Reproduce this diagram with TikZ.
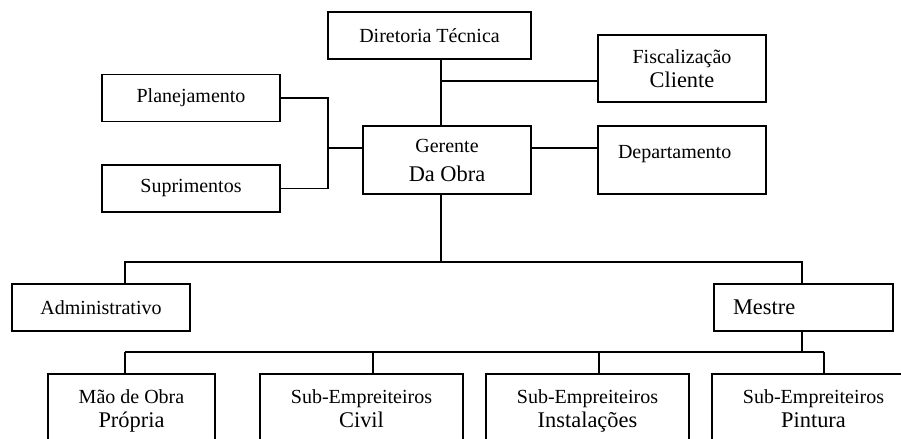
\documentclass[tikz,border=0pt]{standalone}
\usepackage{fontspec}
\setmainfont{Liberation Serif}
\usetikzlibrary{positioning}
\newcommand{\bigline}{\fontsize{11.2}{12}\selectfont}
\newcommand{\topline}{\vrule width 0pt height 9.1pt\relax}
\newcommand{\botline}{\vrule width 0pt depth 2.3pt\relax}

\begin{document}
\begin{tikzpicture}[
    x=0.5pt, y=-0.5pt,
    font=\fontsize{10}{11}\selectfont,
    box/.style={draw, line width=0.9pt, align=center, inner sep=0pt,
                minimum height=23.5pt},
    link/.style={draw, line width=0.9pt},
  ]
  \useasboundingbox (0,0) rectangle (901,439);
  \clip (0,0) rectangle (901,439);

  % --- Top level ---
  \node[box, minimum width=101.5pt] (dir) at (429.5,35.5) {Diretoria Técnica};
  \node[box, minimum width=84pt, minimum height=33.5pt] (fisc) at (682,68.5)
    {\topline Fiscalização\\[1.2pt]{\bigline\botline Cliente}};
  \node[box, minimum width=89pt] (plan) at (191,98) {Planejamento};
  \node[box, minimum width=89pt] (supr) at (191,188.5) {Suprimentos};
  \node[box, minimum width=84pt, minimum height=34pt] (ger) at (447,160)
    {\topline Gerente\\[3.6pt]{\bigline\botline Da Obra}};
  \node[box, minimum width=84pt, minimum height=34pt, text width=64pt,
        inner xsep=10pt, align=left, text height=7pt, text depth=8.4pt]
    (dep) at (682,160) {Departamento};

  % --- Middle level ---
  \node[box, text width=70.5pt, inner xsep=9.5pt, align=left, font=\bigline]
    (mes) at (803.5,307.5) {Mestre};
  \node[box, minimum width=89pt] (adm) at (101,307.5) {Administrativo};

  % --- Bottom level ---
  \node[box, minimum width=83.5pt, minimum height=34.5pt] (mao) at (131.5,408.5)
    {\topline Mão de Obra\\[1pt]{\bigline\botline Própria}};
  \node[box, minimum width=101.5pt, minimum height=34.5pt] (civ) at (361.5,408.5)
    {\topline Sub-Empreiteiros\\[1pt]{\bigline\botline Civil}};
  \node[box, minimum width=101.5pt, minimum height=34.5pt] (ins) at (587.5,408.5)
    {\topline Sub-Empreiteiros\\[1pt]{\bigline\botline Instalações}};
  \node[box, minimum width=101.5pt, minimum height=34.5pt] (pin) at (813.5,408.5)
    {\topline Sub-Empreiteiros\\[1pt]{\bigline\botline Pintura}};

  % --- Connectors ---
  \coordinate (tr) at (441,81);
  \draw[link] (dir.south -| tr) -- (ger.north -| tr);
  \draw[link] (tr) -- (tr -| fisc.west);
  \coordinate (lj) at (328,148);
  \draw[link] (plan.east) -| (lj) |- (supr.east);
  \draw[link] (lj) -- (lj -| ger.west);
  \draw[link] (ger.east |- lj) -- (dep.west |- lj);

  \coordinate (al) at (125,262);
  \coordinate (ml) at (802,262);
  \draw[link] (ger.south -| tr) -- (tr |- al);
  \draw[link] (al |- adm.north) -- (al) -- (ml) -- (ml |- mes.north);

  \coordinate (bar) at (802,352);
  \draw[link] (bar |- mes.south) -- (bar);
  \foreach \n/\x in {mao/125,civ/373,ins/599,pin/824} {
    \coordinate (d\n) at (\x,352);
    \draw[link] (d\n) -- (d\n |- \n.north);
  }
  \draw[link] (dmao) -- (dpin);
\end{tikzpicture}
\end{document}
